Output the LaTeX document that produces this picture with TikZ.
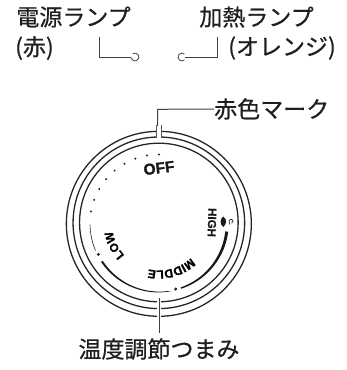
\documentclass[tikz,border=0pt]{standalone}
\usepackage{fontspec}
\usetikzlibrary{calc,decorations.text}
\setmainfont{Noto Sans CJK JP}[FakeBold=0.6]
\newfontfamily\dial{Liberation Sans}[FakeBold=1.2]
\newcommand{\dialfont}[1]{\dial\bfseries\fontsize{#1pt}{#1pt}\selectfont}
\tikzset{
  lbl/.style={inner sep=0pt,font=\fontsize{23pt}{25pt}\selectfont,text=black!88},
  dl/.style={inner sep=0pt,text=black!90},
  ring/.style={draw=black!85,line width=1.3pt},
  lead/.style={draw=black!75,line width=1pt},
  tickdot/.style={fill=black!85,draw=none},
  curved/.style={decorate,decoration={text along path,text align=center,text format delimiters={|}{|},text={#1}}}
}
\begin{document}
\begin{tikzpicture}[x=1pt,y=-1pt]
\useasboundingbox (0,0) rectangle (346,370);
\node[lbl] (a) at (73.5,17) {電源ランプ};
\node[lbl,anchor=west] (b) at (15,48) {(赤)};
\node[lbl] (c) at (256.5,17) {加熱ランプ};
\node[lbl,anchor=east] (d) at (336,48) {(オレンジ)};
\coordinate (p1) at (99,37);
\coordinate (p2) at (99,57);
\coordinate (p3) at (131,57);
\coordinate (p4) at (217.7,37);
\coordinate (p5) at (217.7,57);
\coordinate (p6) at (185,57);
\draw[lead] (p1) -- (p2) -- (p3);
\draw[lead] (p4) -- (p5) -- (p6);
\draw[lead,line width=.8pt] (133,53.6) arc[start angle=-120,end angle=170,radius=3.9];
\draw[lead,line width=.8pt] (184.5,54) arc[start angle=-50,end angle=-310,radius=3.9];
\node[lbl,anchor=west] (e) at (214,109) {赤色マーク};
\draw[ring] (158.85,223.8) circle (92.5);
\draw[ring] (158.85,222.8) circle (85.8);
\draw[ring] (158.85,222.5) circle (79.3);
% red mark
\coordinate (m1) at (157.7,109.3);
\coordinate (m2) at (157.7,128);
\draw[lead] (e.west) -- (m1) -- (m2);
\fill[white] (156.3,126) rectangle (161.6,137.5);
\draw[black!65,line width=.5pt] (156.3,125) -- (156.3,137.5) (161.6,125) -- (161.6,137.5);
% knob leader
\fill[white] (157,298) rectangle (161,318);
\coordinate (k1) at (159,298);
\coordinate (k2) at (159,333);
\draw[lead] (k1) -- (k2);
\node[lbl] (f) at (159,349) {温度調節つまみ};
\node[dl,rotate=7,font=\dialfont{15.5}] (off) at (159,168) {OFF};
\node[dl,rotate=-92,font=\dialfont{11.5}] (hi) at (212,222.5) {HIGH};
\begin{scope}[shift={(159,223.5)},y=1pt]
\path[curved={|\dialfont{12}|MIDDLE}] (-25:47) arc[start angle=-25,end angle=-125,radius=47];
\path[curved={|\dialfont{11.8}|LOW}] (-120:47) arc[start angle=-120,end angle=-188,radius=47];
\foreach \a in {90,100,...,170} \fill[tickdot] (\a:69) circle (1.1);
\fill[tickdot] (207:68) circle (1.7);
\fill[tickdot] (284.3:67.6) circle (1.7);
\draw[black!85,line width=.6pt] (181:69) arc[start angle=181,end angle=203,radius=69];
\fill[black!90] plot[domain=213.5:279.3,samples=30] (\x:{68.5+1.0-0.7*(\x-213.5)/65.8}) -- plot[domain=279.3:213.5,samples=30] (\x:{68.5-1.0+0.7*(\x-213.5)/65.8}) -- cycle;
\fill[black!90] plot[domain=288.7:353.2,samples=30] (\x:{68.2+0.7+0.8*(\x-288.7)/64.5}) -- plot[domain=353.2:288.7,samples=30] (\x:{68.2-0.7-0.8*(\x-288.7)/64.5}) -- cycle;
\end{scope}
% HIGH lamp mark
\fill[black!90] (223.3,216.5) .. controls (227,219) and (227,224) .. (223.3,227) .. controls (219.7,224.5) and (219.7,219) .. (223.3,216.5);
\draw[black!80,line width=.7pt] (230,224.5) .. controls (228,221.5) and (229.5,218.5) .. (232,219.5) .. controls (234,220.5) and (233,223) .. (231.5,223);
\end{tikzpicture}
\end{document}
